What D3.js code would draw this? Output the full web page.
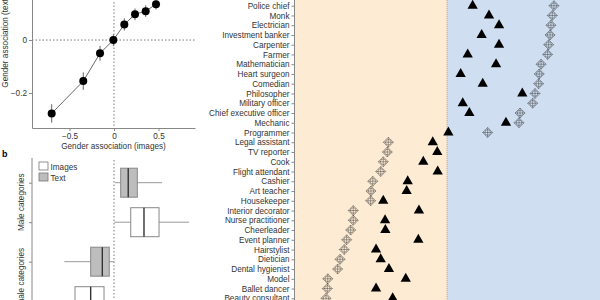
<!DOCTYPE html>
<html>
<head>
<meta charset="utf-8">
<script src="https://cdn.jsdelivr.net/npm/d3@7"></script>
<style>
  body { margin: 0; background: #fff; }
  svg { display: block; font-family: "Liberation Sans", Arial, sans-serif; }
  .axis path, .axis line { stroke: #888; }
  .axis text { fill: #333; font-size: 8.2px; }
</style>
</head>
<body>
<div id="chart"></div>
<script>
// panel a: mean gender association, images vs text
var aImages = [-0.70, -0.345, -0.157, -0.007, 0.116, 0.236, 0.356, 0.472];
var aText = [-0.277, -0.155, -0.05, 0.0, 0.059, 0.097, 0.109, 0.135];
var aErr = [0.035, 0.033, 0.028, 0.022, 0.023, 0.022, 0.022, 0.02];
var aXTicks = [-0.5, 0, 0.5];
var aYTicks = [-0.2, 0, 0.2];

// panel b: box plots
var boxGroups = ["Male text", "Male images", "Female text", "Female images"];
var boxSource = ["Text", "Images", "Text", "Images"];
var boxLo = [0.011, 0.003, -0.558, -0.85];
var boxQ1 = [0.075, 0.188, -0.262, -0.438];
var boxMed = [0.16, 0.337, -0.131, -0.262];
var boxQ3 = [0.262, 0.506, -0.053, -0.112];
var boxHi = [0.54, 0.843, 0.003, 0.0];
var legendItems = ["Images", "Text"];

// panel c: occupations
var occupations = ["Police chief", "Monk", "Electrician", "Investment banker", "Carpenter",
  "Farmer", "Mathematician", "Heart surgeon", "Comedian", "Philosopher", "Military officer",
  "Chief executive officer", "Mechanic", "Programmer", "Legal assistant", "TV reporter", "Cook",
  "Flight attendant", "Cashier", "Art teacher", "Housekeeper", "Interior decorator",
  "Nurse practitioner", "Cheerleader", "Event planner", "Hairstylist", "Dietician",
  "Dental hygienist", "Model", "Ballet dancer", "Beauty consultant"];
var occImages = [0.713, 0.702, 0.693, 0.687, 0.678, 0.671, 0.627, 0.615, 0.611, 0.587, 0.571,
  0.487, 0.48, 0.271, -0.391, -0.398, -0.425, -0.442, -0.495, -0.507, -0.509, -0.625,
  -0.625, -0.642, -0.669, -0.685, -0.713, -0.729, -0.795, -0.798, -0.807];
var occText = [0.171, 0.28, 0.347, 0.231, 0.347, 0.138, 0.327, 0.091, 0.238, 0.502, 0.105,
  0.149, 0.393, 0.009, -0.095, -0.065, -0.158, -0.062, -0.262, -0.269, -0.425, -0.187,
  -0.413, -0.411, -0.191, -0.473, -0.442, -0.387, -0.275, -0.473, -0.362];

var svg = d3.select("#chart").append("svg")
    .attr("width", 600)
    .attr("height", 300);

// ---------- panel a ----------
var ax = d3.scaleLinear().domain([-0.921, 0.91]).range([32, 195]);
var ay = d3.scaleLinear().domain([-0.332, 0.17]).range([128, -5]);

var ga = svg.append("g");

ga.append("line")
    .attr("x1", ax(0)).attr("x2", ax(0))
    .attr("y1", ay.range()[1]).attr("y2", ay.range()[0])
    .attr("stroke", "#555").attr("stroke-width", 0.8).attr("stroke-dasharray", "1.5,2");
ga.append("line")
    .attr("x1", ax.range()[0]).attr("x2", ax.range()[1])
    .attr("y1", ay(0)).attr("y2", ay(0))
    .attr("stroke", "#555").attr("stroke-width", 0.8).attr("stroke-dasharray", "1.5,2");

ga.append("g").attr("class", "axis")
    .attr("transform", "translate(0,128)")
    .call(d3.axisBottom(ax).tickValues(aXTicks).tickFormat(d3.format("")).tickSize(3).tickPadding(2).tickSizeOuter(0));
ga.append("g").attr("class", "axis")
    .attr("transform", "translate(32,0)")
    .call(d3.axisLeft(ay).tickValues(aYTicks).tickFormat(d3.format("")).tickSize(3).tickPadding(2).tickSizeOuter(0));

ga.append("text")
    .attr("x", 113.5).attr("y", 149)
    .attr("text-anchor", "middle")
    .attr("font-size", "8.2px").attr("fill", "#333")
    .text("Gender association (images)");
ga.append("text")
    .attr("transform", "translate(8,42) rotate(-90)")
    .attr("text-anchor", "middle")
    .attr("font-size", "8.2px").attr("fill", "#333")
    .text("Gender association (text)");

var line = d3.line()
    .x(function (d, i) { return ax(aImages[i]); })
    .y(function (d, i) { return ay(aText[i]); });
ga.append("path")
    .datum(aText)
    .attr("d", line)
    .attr("fill", "none")
    .attr("stroke", "#444")
    .attr("stroke-width", 0.8);

ga.selectAll(".err").data(aText).enter()
    .append("line")
    .attr("class", "err")
    .attr("x1", function (d, i) { return ax(aImages[i]); })
    .attr("x2", function (d, i) { return ax(aImages[i]); })
    .attr("y1", function (d, i) { return ay(d - aErr[i]); })
    .attr("y2", function (d, i) { return ay(d + aErr[i]); })
    .attr("stroke", "#666")
    .attr("stroke-width", 1);

ga.selectAll(".pt").data(aText).enter()
    .append("circle")
    .attr("class", "pt")
    .attr("cx", function (d, i) { return ax(aImages[i]); })
    .attr("cy", function (d) { return ay(d); })
    .attr("r", 4)
    .attr("fill", "#000");

// ---------- panel b ----------
var gb = svg.append("g");
var by = d3.scalePoint().domain(boxGroups).range([182.7, 301.2]);
var boxH = 29;

gb.append("text")
    .attr("x", 2).attr("y", 157)
    .attr("font-size", "9px").attr("font-weight", "bold")
    .text("b");

gb.append("line")
    .attr("x1", ax(0)).attr("x2", ax(0))
    .attr("y1", 160).attr("y2", 300)
    .attr("stroke", "#555").attr("stroke-width", 0.8).attr("stroke-dasharray", "1.5,2");

gb.append("g").attr("class", "axis")
    .attr("transform", "translate(32,0)")
    .call(d3.axisLeft(by).tickSize(3).tickFormat("").tickSizeOuter(0))
    .select(".domain").attr("d", "M0,158V300");

gb.append("text")
    .attr("transform", "translate(24,202.2) rotate(-90)")
    .attr("text-anchor", "middle")
    .attr("font-size", "8.2px").attr("fill", "#333")
    .text("Male categories");
gb.append("text")
    .attr("transform", "translate(24,281.5) rotate(-90)")
    .attr("text-anchor", "middle")
    .attr("font-size", "8.2px").attr("fill", "#333")
    .text("Female categories");

function boxFill(src) { return src === "Text" ? "#bdbdbd" : "#fff"; }

var boxes = gb.selectAll(".box").data(boxGroups).enter()
    .append("g").attr("class", "box");
boxes.append("line")
    .attr("x1", function (d, i) { return ax(boxLo[i]); })
    .attr("x2", function (d, i) { return ax(boxHi[i]); })
    .attr("y1", function (d) { return by(d); })
    .attr("y2", function (d) { return by(d); })
    .attr("stroke", "#999").attr("stroke-width", 1);
boxes.append("rect")
    .attr("x", function (d, i) { return ax(boxQ1[i]); })
    .attr("width", function (d, i) { return ax(boxQ3[i]) - ax(boxQ1[i]); })
    .attr("y", function (d) { return by(d) - boxH / 2; })
    .attr("height", boxH)
    .attr("fill", function (d, i) { return boxFill(boxSource[i]); })
    .attr("stroke", "#888").attr("stroke-width", 1);
boxes.append("line")
    .attr("x1", function (d, i) { return ax(boxMed[i]); })
    .attr("x2", function (d, i) { return ax(boxMed[i]); })
    .attr("y1", function (d) { return by(d) - boxH / 2; })
    .attr("y2", function (d) { return by(d) + boxH / 2; })
    .attr("stroke", "#333").attr("stroke-width", 1.4);

var leg = gb.selectAll(".leg").data(legendItems).enter()
    .append("g").attr("class", "leg")
    .attr("transform", function (d, i) { return "translate(39," + (162 + i * 11) + ")"; });
leg.append("rect")
    .attr("width", 9).attr("height", 8)
    .attr("fill", function (d) { return boxFill(d); })
    .attr("stroke", "#777").attr("stroke-width", 0.8);
leg.append("text")
    .attr("x", 11.5).attr("y", 7.5)
    .attr("font-size", "8.2px").attr("fill", "#333")
    .text(function (d) { return d; });

// ---------- panel c ----------
var gc = svg.append("g");
var cx = d3.scaleLinear().domain([-1, 1]).range([297, 597]);
var cy = d3.scalePoint().domain(occupations).range([5.7, 298.3]);

gc.append("rect")
    .attr("x", 295).attr("y", 0)
    .attr("width", cx(0) - 295).attr("height", 300)
    .attr("fill", "#fdebd3");
gc.append("rect")
    .attr("x", cx(0)).attr("y", 0)
    .attr("width", 600 - cx(0)).attr("height", 300)
    .attr("fill", "#cfdff1");
gc.append("line")
    .attr("x1", cx(0)).attr("x2", cx(0))
    .attr("y1", 0).attr("y2", 300)
    .attr("stroke", "#999").attr("stroke-width", 0.8).attr("stroke-dasharray", "1,1");

var yAxisC = gc.append("g").attr("class", "axis")
    .attr("transform", "translate(294.5,0)")
    .call(d3.axisLeft(cy).tickSize(3).tickPadding(2).tickSizeOuter(0));
yAxisC.select(".domain").attr("d", "M0,0V300");
yAxisC.selectAll("text").attr("fill", "#222").attr("font-size", "8.3px");

var diamond = "M0,-5L5,0L0,5L-5,0Z M-5,0H5 M0,-5V5";
var marks = gc.selectAll(".img").data(occupations).enter()
    .append("g").attr("class", "img")
    .attr("transform", function (d, i) { return "translate(" + cx(occImages[i]) + "," + cy(d) + ")"; });
marks.append("path")
    .attr("d", diamond)
    .attr("fill", "none")
    .attr("stroke", "rgba(40,40,40,0.6)")
    .attr("stroke-width", 0.7);
marks.append("circle")
    .attr("r", 2.8)
    .attr("fill", "none")
    .attr("stroke", "rgba(40,40,40,0.6)")
    .attr("stroke-width", 0.7);

gc.selectAll(".txt").data(occupations).enter()
    .append("path")
    .attr("class", "txt")
    .attr("d", d3.symbol().type(d3.symbolTriangle).size(46))
    .attr("transform", function (d, i) { return "translate(" + cx(occText[i]) + "," + cy(d) + ")"; })
    .attr("fill", "#000");
</script>
</body>
</html>
